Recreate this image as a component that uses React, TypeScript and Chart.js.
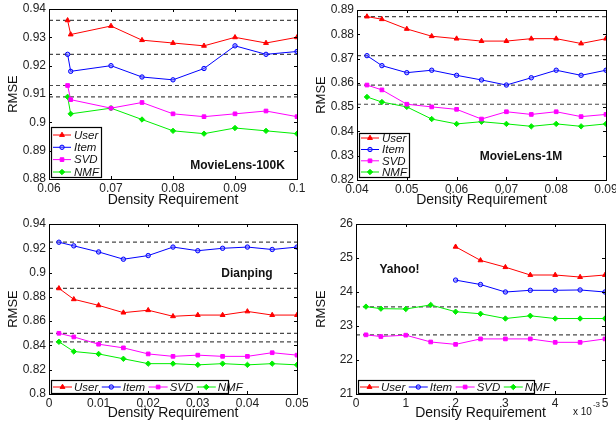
import React, { useEffect, useRef } from 'react';
import { Chart, registerables } from 'chart.js';

Chart.register(...registerables);

const FONT = '"Liberation Sans", Arial, Helvetica, sans-serif';

// ---------- Data ----------
const seriesNames = ['User', 'Item', 'SVD', 'NMF'];

// MovieLens-100K
const ml100kDensity = [0.063, 0.0635, 0.07, 0.075, 0.08, 0.085, 0.09, 0.095, 0.1];
const ml100kUser = [0.936, 0.931, 0.934, 0.929, 0.928, 0.927, 0.930, 0.928, 0.930];
const ml100kItem = [0.924, 0.918, 0.920, 0.916, 0.915, 0.919, 0.927, 0.924, 0.925];
const ml100kSVD = [0.913, 0.908, 0.905, 0.907, 0.903, 0.902, 0.903, 0.904, 0.902];
const ml100kNMF = [0.909, 0.903, 0.905, 0.901, 0.897, 0.896, 0.898, 0.897, 0.896];
const ml100kBaselines = [0.936, 0.924, 0.913, 0.909];

// MovieLens-1M
const ml1mDensity = [0.042, 0.045, 0.05, 0.055, 0.06, 0.065, 0.07, 0.075, 0.08, 0.085, 0.09];
const ml1mUser = [0.8873, 0.8862, 0.8822, 0.8792, 0.8782, 0.8772, 0.8772, 0.8782, 0.8782, 0.8762, 0.8782];
const ml1mItem = [0.8712, 0.8671, 0.8642, 0.8652, 0.8631, 0.8612, 0.8591, 0.8621, 0.8652, 0.8631, 0.8652];
const ml1mSVD = [0.8591, 0.8571, 0.8512, 0.8501, 0.8491, 0.8451, 0.8481, 0.8470, 0.8481, 0.8461, 0.8470];
const ml1mNMF = [0.8542, 0.8521, 0.8501, 0.8451, 0.8431, 0.8440, 0.8431, 0.8421, 0.8431, 0.8421, 0.8431];
const ml1mBaselines = [0.8873, 0.8712, 0.8591, 0.8512];

// Dianping
const dpDensity = [0.002, 0.005, 0.01, 0.015, 0.02, 0.025, 0.03, 0.035, 0.04, 0.045, 0.05];
const dpUser = [0.887, 0.878, 0.873, 0.867, 0.869, 0.864, 0.865, 0.865, 0.868, 0.865, 0.865];
const dpItem = [0.925, 0.922, 0.917, 0.911, 0.914, 0.921, 0.918, 0.920, 0.921, 0.919, 0.921];
const dpSVD = [0.850, 0.847, 0.841, 0.838, 0.833, 0.831, 0.832, 0.831, 0.831, 0.834, 0.832];
const dpNMF = [0.843, 0.835, 0.833, 0.829, 0.825, 0.825, 0.824, 0.825, 0.824, 0.825, 0.824];
const dpBaselines = [0.925, 0.887, 0.850, 0.843];

// Yahoo! (density in units of 1e-3)
const yhDensity = [0.2, 0.5, 1, 1.5, 2, 2.5, 3, 3.5, 4, 4.5, 5];
const yhDensityUI = [2, 2.5, 3, 3.5, 4, 4.5, 5];
const yhUser = [25.33, 24.93, 24.73, 24.5, 24.5, 24.44, 24.5];
const yhItem = [24.35, 24.22, 24.0, 24.05, 24.05, 24.06, 24.0];
const yhSVD = [22.74, 22.69, 22.73, 22.53, 22.46, 22.62, 22.62, 22.62, 22.52, 22.52, 22.62];
const yhNMF = [23.57, 23.51, 23.5, 23.62, 23.42, 23.36, 23.22, 23.3, 23.22, 23.22, 23.22];
const yhBaselines = [23.56, 22.74];

// ---------- Styles ----------
const COLORS = ['#ff0000', '#0000ff', '#ff00ff', '#00ee00'];
const FILLS = ['#ff0000', 'rgba(110,110,255,0.5)', '#ff00ff', '#00ee00'];
const MARKERS = ['triangle', 'circle', 'rect', 'rectRot'];
const RADII = [2.8, 2.2, 2.6, 2.7];

type Series = { x: number[]; y: number[]; idx: number };

interface PanelSpec {
  key: string;
  left: number; top: number; width: number; height: number;
  area: { left: number; top: number; right: number; bottom: number };
  xMin: number; xMax: number; xStep: number;
  yMin: number; yMax: number; yStep: number;
  series: Series[];
  baselines: number[];
  name: string; nameX: number; nameY: number;
  legend: { kind: 'v' | 'h'; left: number; top: number; right: number; bottom: number; rows?: number[] };
  xTitlePad: number;
  exponent?: boolean;
}

const panels: PanelSpec[] = [
  {
    key: 'p1', left: 0, top: 0, width: 308, height: 210,
    area: { left: 49, top: 9, right: 297, bottom: 179 },
    xMin: 0.06, xMax: 0.1, xStep: 0.01, yMin: 0.88, yMax: 0.94, yStep: 0.01,
    series: [
      { x: ml100kDensity, y: ml100kUser, idx: 0 },
      { x: ml100kDensity, y: ml100kItem, idx: 1 },
      { x: ml100kDensity, y: ml100kSVD, idx: 2 },
      { x: ml100kDensity, y: ml100kNMF, idx: 3 },
    ],
    baselines: ml100kBaselines,
    name: 'MovieLens-100K', nameX: 237.5, nameY: 166,
    legend: { kind: 'v', left: 51, top: 127, right: 101, bottom: 177, rows: [135, 147.3, 159.6, 172] },
    xTitlePad: 1,
  },
  {
    key: 'p2', left: 308, top: 0, width: 308, height: 210,
    area: { left: 49, top: 10, right: 298, bottom: 180 },
    xMin: 0.04, xMax: 0.09, xStep: 0.01, yMin: 0.82, yMax: 0.89, yStep: 0.01,
    series: [
      { x: ml1mDensity, y: ml1mUser, idx: 0 },
      { x: ml1mDensity, y: ml1mItem, idx: 1 },
      { x: ml1mDensity, y: ml1mSVD, idx: 2 },
      { x: ml1mDensity, y: ml1mNMF, idx: 3 },
    ],
    baselines: ml1mBaselines,
    name: 'MovieLens-1M', nameX: 213, nameY: 157,
    legend: { kind: 'v', left: 51, top: 133, right: 101, bottom: 177, rows: [138, 149.5, 160.8, 172] },
    xTitlePad: 1,
  },
  {
    key: 'p3', left: 0, top: 210, width: 308, height: 212,
    area: { left: 49, top: 14, right: 297, bottom: 184 },
    xMin: 0, xMax: 0.05, xStep: 0.01, yMin: 0.8, yMax: 0.94, yStep: 0.02,
    series: [
      { x: dpDensity, y: dpUser, idx: 0 },
      { x: dpDensity, y: dpItem, idx: 1 },
      { x: dpDensity, y: dpSVD, idx: 2 },
      { x: dpDensity, y: dpNMF, idx: 3 },
    ],
    baselines: dpBaselines,
    name: 'Dianping', nameX: 247, nameY: 63.5,
    legend: { kind: 'h', left: 51, top: 170, right: 228, bottom: 183 },
    xTitlePad: 0,
  },
  {
    key: 'p4', left: 308, top: 210, width: 308, height: 212,
    area: { left: 48, top: 14, right: 297, bottom: 184 },
    xMin: 0, xMax: 5, xStep: 1, yMin: 21, yMax: 26, yStep: 1,
    series: [
      { x: yhDensityUI, y: yhUser, idx: 0 },
      { x: yhDensityUI, y: yhItem, idx: 1 },
      { x: yhDensity, y: yhSVD, idx: 2 },
      { x: yhDensity, y: yhNMF, idx: 3 },
    ],
    baselines: yhBaselines,
    name: 'Yahoo!', nameX: 91.5, nameY: 60,
    legend: { kind: 'h', left: 50, top: 170, right: 226, bottom: 183 },
    xTitlePad: 0,
    exponent: true,
  },
];

function drawMarker(ctx: CanvasRenderingContext2D, idx: number, x: number, y: number) {
  const r = RADII[idx];
  ctx.save();
  ctx.strokeStyle = COLORS[idx];
  ctx.fillStyle = FILLS[idx];
  ctx.lineWidth = 1;
  ctx.beginPath();
  const style = MARKERS[idx];
  if (style === 'triangle') {
    let rad = 0;
    for (let k = 0; k < 3; k++) {
      const px = x + Math.sin(rad) * r;
      const py = y - Math.cos(rad) * r;
      if (k === 0) ctx.moveTo(px, py); else ctx.lineTo(px, py);
      rad += (2 * Math.PI) / 3;
    }
    ctx.closePath();
  } else if (style === 'circle') {
    ctx.arc(x, y, r, 0, Math.PI * 2);
  } else if (style === 'rect') {
    const s = r * Math.SQRT1_2;
    ctx.rect(x - s, y - s, 2 * s, 2 * s);
  } else {
    ctx.moveTo(x, y - r); ctx.lineTo(x + r, y); ctx.lineTo(x, y + r); ctx.lineTo(x - r, y);
    ctx.closePath();
  }
  ctx.fill();
  ctx.stroke();
  ctx.restore();
}

function fmt(v: any) {
  return String(+Number(v).toFixed(4));
}

function makeDecor(p: PanelSpec) {
  return {
    id: 'decor_' + p.key,
    afterDatasetsDraw(chart: any) {
      const ctx: CanvasRenderingContext2D = chart.ctx;
      ctx.save();
      // dataset name
      ctx.font = 'bold 12px ' + FONT;
      ctx.fillStyle = '#111';
      ctx.textAlign = 'center';
      ctx.textBaseline = 'middle';
      ctx.fillText(p.name, p.nameX, p.nameY);
      // legend
      const L = p.legend;
      ctx.fillStyle = '#fff';
      ctx.fillRect(L.left, L.top, L.right - L.left, L.bottom - L.top);
      ctx.strokeStyle = '#000';
      ctx.lineWidth = 1.2;
      ctx.strokeRect(L.left + 0.5, L.top + 0.5, L.right - L.left, L.bottom - L.top);
      ctx.font = 'italic 11.5px ' + FONT;
      ctx.textAlign = 'left';
      ctx.textBaseline = 'middle';
      if (L.kind === 'v') {
        seriesNames.forEach((nm, i) => {
          const y = L.rows![i];
          ctx.strokeStyle = COLORS[i];
          ctx.lineWidth = 1;
          ctx.beginPath();
          ctx.moveTo(L.left + 2, y); ctx.lineTo(L.left + 20, y); ctx.stroke();
          drawMarker(ctx, i, L.left + 11, y);
          ctx.fillStyle = '#111';
          ctx.fillText(nm, L.left + 23, y + 0.5);
        });
      } else {
        const y = (L.top + L.bottom) / 2 + 0.5;
        let cx = L.left + 2;
        seriesNames.forEach((nm, i) => {
          ctx.strokeStyle = COLORS[i];
          ctx.lineWidth = 1;
          ctx.beginPath();
          ctx.moveTo(cx, y); ctx.lineTo(cx + 19, y); ctx.stroke();
          drawMarker(ctx, i, cx + 9.5, y);
          ctx.fillStyle = '#111';
          ctx.fillText(nm, cx + 21, y + 0.5);
          cx += 21 + ctx.measureText(nm).width + 3.5;
        });
      }
      ctx.restore();
    },
    afterDraw(chart: any) {
      const ctx: CanvasRenderingContext2D = chart.ctx;
      const a = chart.chartArea;
      ctx.save();
      ctx.strokeStyle = '#000';
      ctx.lineWidth = 1;
      ctx.strokeRect(Math.round(a.left) + 0.5, Math.round(a.top) + 0.5, Math.round(a.right - a.left), Math.round(a.bottom - a.top));
      const TL = 3;
      const xs = chart.scales.x;
      const ys = chart.scales.y;
      ctx.beginPath();
      xs.ticks.forEach((t: any) => {
        const px = Math.round(xs.getPixelForValue(t.value)) + 0.5;
        ctx.moveTo(px, a.bottom); ctx.lineTo(px, a.bottom - TL);
        ctx.moveTo(px, a.top); ctx.lineTo(px, a.top + TL);
      });
      ys.ticks.forEach((t: any) => {
        const py = Math.round(ys.getPixelForValue(t.value)) + 0.5;
        ctx.moveTo(a.left, py); ctx.lineTo(a.left + TL, py);
        ctx.moveTo(a.right, py); ctx.lineTo(a.right - TL, py);
      });
      ctx.stroke();
      if (p.exponent) {
        ctx.fillStyle = '#111';
        ctx.textAlign = 'left';
        ctx.textBaseline = 'middle';
        ctx.font = '10px ' + FONT;
        ctx.fillText('x 10', 265, 202.5);
        const w = ctx.measureText('x 10').width;
        ctx.font = '8px ' + FONT;
        ctx.fillText('-3', 265 + w + 1, 195);
      }
      ctx.restore();
    },
  };
}

function Panel({ p }: { p: PanelSpec }) {
  const ref = useRef<HTMLCanvasElement | null>(null);
  useEffect(() => {
    if (!ref.current) return;
    const datasets: any[] = p.series.map((s) => ({
      label: seriesNames[s.idx],
      data: s.x.map((xv, i) => ({ x: xv, y: s.y[i] })),
      borderColor: COLORS[s.idx],
      backgroundColor: FILLS[s.idx],
      pointStyle: MARKERS[s.idx],
      pointRadius: RADII[s.idx],
      pointBorderColor: COLORS[s.idx],
      pointBackgroundColor: FILLS[s.idx],
      pointBorderWidth: 1,
      borderWidth: 1,
      tension: 0,
      order: 1,
    }));
    p.baselines.forEach((b) => {
      datasets.push({
        label: 'baseline',
        data: [{ x: p.xMin, y: b }, { x: p.xMax, y: b }],
        borderColor: '#4a4a4a',
        borderDash: [4, 3],
        borderWidth: 1.2,
        pointRadius: 0,
        order: 5,
      });
    });
    const tickFont = { family: FONT, size: 12, lineHeight: 1.2 };
    const chart = new Chart(ref.current, {
      type: 'line',
      data: { datasets },
      options: {
        animation: false,
        responsive: false,
        maintainAspectRatio: false,
        devicePixelRatio: 1,
        layout: {
          autoPadding: false,
          padding: { left: 0, top: p.area.top, right: p.width - p.area.right, bottom: 0 },
        },
        plugins: {
          legend: { display: false },
          tooltip: { enabled: false },
          title: { display: false },
        },
        scales: {
          x: {
            type: 'linear',
            min: p.xMin,
            max: p.xMax,
            grid: { display: false, drawTicks: false },
            border: { display: false },
            ticks: {
              stepSize: p.xStep, padding: 2, color: '#222', font: tickFont,
              maxRotation: 0, autoSkip: false, callback: fmt,
            },
            title: {
              display: true, text: 'Density Requirement', color: '#111',
              font: { family: FONT, size: 14, lineHeight: 1.2 },
              padding: { top: 0, bottom: p.xTitlePad },
            },
            afterFit: (s: any) => {
              s.height = p.height - p.area.bottom;
              s.paddingLeft = 0; s.paddingRight = 0; s.paddingTop = 0; s.paddingBottom = 0;
            },
          },
          y: {
            type: 'linear',
            min: p.yMin,
            max: p.yMax,
            grid: { display: false, drawTicks: false },
            border: { display: false },
            ticks: {
              stepSize: p.yStep, padding: 3, color: '#222', font: tickFont,
              autoSkip: false, callback: fmt,
            },
            title: {
              display: true, text: 'RMSE', color: '#111',
              font: { family: FONT, size: 13, lineHeight: 1.2 },
              padding: { top: 6, bottom: 0 },
            },
            afterFit: (s: any) => {
              s.width = p.area.left;
              s.paddingLeft = 0; s.paddingRight = 0; s.paddingTop = 0; s.paddingBottom = 0;
            },
          },
        },
      } as any,
      plugins: [makeDecor(p)],
    });
    return () => chart.destroy();
  }, [p]);
  return (
    <canvas
      ref={ref}
      width={p.width}
      height={p.height}
      style={{ position: 'absolute', left: p.left, top: p.top, width: p.width, height: p.height }}
    />
  );
}

export default function App() {
  return (
    <div style={{ position: 'absolute', left: 0, top: 0, width: 616, height: 422, background: '#fff', overflow: 'hidden' }}>
      {panels.map((p) => (
        <Panel key={p.key} p={p} />
      ))}
    </div>
  );
}
